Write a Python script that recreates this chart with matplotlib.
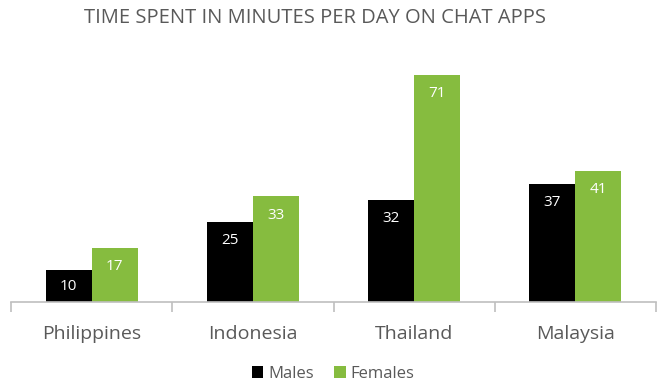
import numpy as np
import matplotlib.pyplot as plt

plt.rcParams['font.family'] = ['Open Sans', 'DejaVu Sans']

countries = ['Philippines', 'Indonesia', 'Thailand', 'Malaysia']
males = [10, 25, 32, 37]
females = [17, 33, 71, 41]

green = '#86BC3F'
grey_text = '#595959'
axis_grey = '#BFBFBF'

fig = plt.figure(figsize=(6.66, 3.89), dpi=100)
ax = fig.add_axes([11 / 666, 87 / 389, 645 / 666, 256 / 389])

x = np.arange(len(countries))
w = 0.286
b1 = ax.bar(x - w / 2, males, w, color='black', label='Males')
b2 = ax.bar(x + w / 2, females, w, color=green, label='Females')

ax.set_xlim(-0.5, len(countries) - 0.5)
ax.set_ylim(0, 80)

# labels sit just inside the bar top, centred in short bars
px_per_unit = 256 / 80
for bars in (b1, b2):
    for r in bars:
        h = r.get_height()
        off_px = min(19, h * px_per_unit / 2)
        ax.annotate(str(int(h)), (r.get_x() + r.get_width() / 2, h),
                    xytext=(0, -off_px * 0.72), textcoords='offset points', ha='center', va='center',
                    color='white', fontsize=11)

ax.set_yticks([])
for s in ['top', 'right', 'left']:
    ax.spines[s].set_visible(False)
ax.spines['bottom'].set_color(axis_grey)
ax.spines['bottom'].set_linewidth(1.2)

ax.set_xticks(np.arange(-0.5, len(countries), 1.0))
ax.set_xticklabels([])
ax.tick_params(axis='x', length=7, color=axis_grey, width=1.2)
for i, c in enumerate(countries):
    ax.text(i, -0.125, c, transform=ax.get_xaxis_transform(), ha='center', va='center',
            fontsize=14, color=grey_text)

fig.text(315 / 666, 1 - 18 / 389, 'TIME SPENT IN MINUTES PER DAY ON CHAT APPS', ha='center', va='center',
         fontsize=14.5, color=grey_text)

leg = fig.legend(loc='center', bbox_to_anchor=(0.5, 1 - 374 / 389), ncol=2, frameon=False,
                 fontsize=12, handlelength=0.7, handleheight=0.7, handletextpad=0.3, columnspacing=1.2)
for t in leg.get_texts():
    t.set_color(grey_text)

fig.savefig('out.png', dpi=100)
